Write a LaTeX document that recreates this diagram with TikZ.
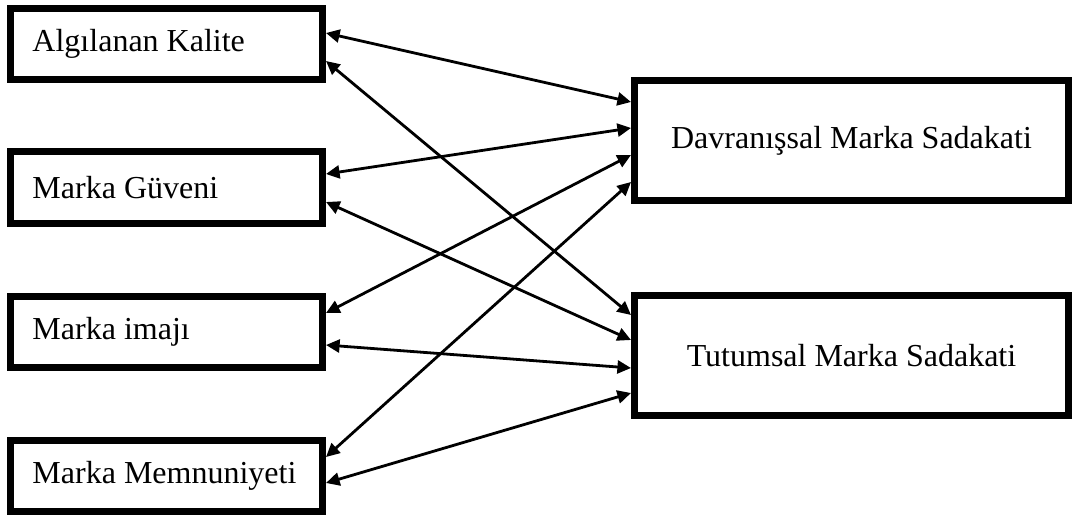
\documentclass[tikz,border=0pt]{standalone}
\usepackage{fontspec}
\setmainfont{Liberation Serif}
\usetikzlibrary{arrows.meta}
\begin{document}
\begin{tikzpicture}[x=0.5pt, y=-0.5pt]

	\tikzstyle{kutu}=[rectangle, draw, line width=3.5pt, minimum width=156pt, minimum height=35.5pt, text width=134pt, inner xsep=11pt, align=flush left, font=\fontsize{16}{19}\selectfont]
	\tikzstyle{sadakat}=[rectangle, draw, line width=3.5pt, minimum width=217pt, minimum height=60pt, align=center, font=\fontsize{16}{19}\selectfont]
	\tikzstyle{ok}=[{Triangle[length=6.8pt, width=6.5pt]}-{Triangle[length=6.8pt, width=6.5pt]}, line width=1.4pt]

	\useasboundingbox (0,0) rectangle (1074,518);

	\coordinate (f_1) at (166.5, 44); % SOL
	\coordinate (f_2) at (166.5, 187.5); % SOL
	\coordinate (f_3) at (166.5, 331.5); % SOL
	\coordinate (f_4) at (166.5, 476); % SOL
	\coordinate (s_1) at (851.5, 140.5); % SAG
	\coordinate (s_2) at (851.5, 355.5); % SAG

	\node[kutu] (f_1) at (f_1) {Algılanan Kalite};
	\node[kutu] (f_2) at (f_2) {Marka Güveni};
	\node[kutu] (f_3) at (f_3) {Marka imajı};
	\node[kutu] (f_4) at (f_4) {Marka Memnuniyeti};

	\node[sadakat] (s_1) at (s_1) {Davranışsal Marka Sadakati};
	\node[sadakat] (s_2) at (s_2) {Tutumsal Marka Sadakati};

	%%%%%%% DAVRANIŞSAL %%%%%%%
	\draw[ok] ([yshift=5.5pt]f_1.east) -- ([yshift=19.25pt]s_1.west);
	\draw[ok] ([yshift=6.75pt]f_2.east) -- ([yshift=6.25pt]s_1.west);
	\draw[ok] ([yshift=9.25pt]f_3.east) -- ([yshift=-7.25pt]s_1.west);
	\draw[ok] ([yshift=9.5pt]f_4.east) -- ([yshift=-20.75pt]s_1.west);

	%%%%%%% TUTUMSAL %%%%%%%
	\draw[ok] ([yshift=-8.5pt]f_1.east) -- ([yshift=20.25pt]s_2.west);
	\draw[ok] ([yshift=-7.25pt]f_2.east) -- ([yshift=7.75pt]s_2.west);
	\draw[ok] ([yshift=-6.75pt]f_3.east) -- ([yshift=-6.25pt]s_2.west);
	\draw[ok] ([yshift=-3.5pt]f_4.east) -- ([yshift=-18.75pt]s_2.west);
\end{tikzpicture}
\end{document}
